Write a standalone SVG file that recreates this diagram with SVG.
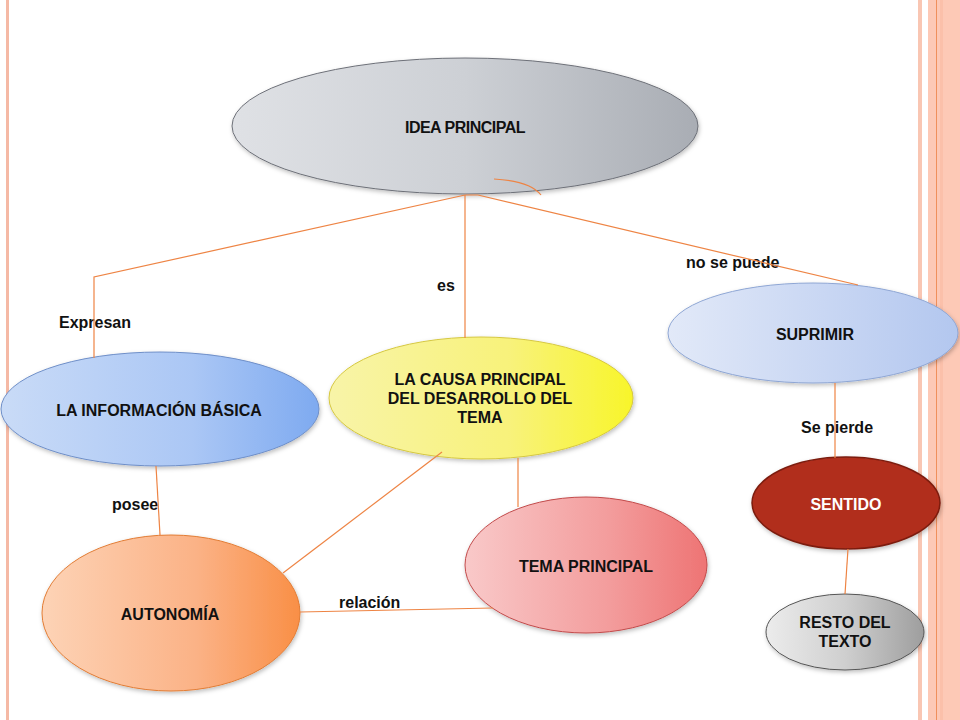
<svg xmlns="http://www.w3.org/2000/svg" width="960" height="720" viewBox="0 0 960 720">
<defs>
<linearGradient id="gGrey" x1="0" y1="0" x2="1" y2="0"><stop offset="0" stop-color="#dfe1e5"/><stop offset="0.5" stop-color="#cdd0d5"/><stop offset="1" stop-color="#a9adb4"/></linearGradient>
<linearGradient id="gBlue" x1="0" y1="0" x2="1" y2="0"><stop offset="0" stop-color="#c9dbf7"/><stop offset="0.6" stop-color="#abc7f5"/><stop offset="1" stop-color="#7eaaf0"/></linearGradient>
<linearGradient id="gYellow" x1="0" y1="0" x2="1" y2="0"><stop offset="0" stop-color="#f8f4a8"/><stop offset="0.6" stop-color="#f8f27a"/><stop offset="1" stop-color="#f8f52a"/></linearGradient>
<linearGradient id="gLBlue" x1="0" y1="0" x2="1" y2="0"><stop offset="0" stop-color="#e2e9f8"/><stop offset="1" stop-color="#b3c7ef"/></linearGradient>
<linearGradient id="gOrange" x1="0" y1="0" x2="1" y2="0"><stop offset="0" stop-color="#fdd3b6"/><stop offset="0.6" stop-color="#fbb286"/><stop offset="1" stop-color="#f98f46"/></linearGradient>
<linearGradient id="gPink" x1="0" y1="0" x2="1" y2="0"><stop offset="0" stop-color="#f9c9c9"/><stop offset="0.6" stop-color="#f39c9c"/><stop offset="1" stop-color="#ee7474"/></linearGradient>
<linearGradient id="gSilver" x1="0" y1="0" x2="1" y2="0"><stop offset="0" stop-color="#ececec"/><stop offset="0.5" stop-color="#cfcfcf"/><stop offset="1" stop-color="#9e9e9e"/></linearGradient>
<filter id="sh" x="-10%" y="-10%" width="120%" height="130%"><feDropShadow dx="1" dy="2" stdDeviation="2" flood-color="#000" flood-opacity="0.25"/></filter>
</defs>
<style>
.t{font-family:"Liberation Sans",Arial,sans-serif;font-weight:bold;font-size:16px;fill:#111;text-anchor:middle}
.l{font-family:"Liberation Sans",Arial,sans-serif;font-weight:bold;font-size:16px;fill:#111}
.c{fill:none;stroke:#ee8444;stroke-width:1.2}
</style>
<rect width="960" height="720" fill="#fff"/>
<g id="border">
<rect x="6" y="0" width="3" height="720" fill="#f5b9a5"/>
<rect x="918" y="0" width="4" height="720" fill="#f9c6b3"/>
<rect x="928" y="0" width="32" height="720" fill="#fdc9b6"/>
<rect x="936" y="0" width="1" height="720" fill="#f0905c"/>
<rect x="940" y="0" width="3" height="720" fill="#fbc0aa"/>
</g>
<g id="labels">
<text class="l" x="59" y="328">Expresan</text>
<text class="l" x="437" y="291">es</text>
<text class="l" x="686" y="268">no se puede</text>
<text class="l" x="801" y="433">Se pierde</text>
<text class="l" x="112" y="510">posee</text>
<text class="l" x="339" y="608">relación</text>
</g>
<g id="idea">
<ellipse cx="465" cy="126" rx="233" ry="68" fill="url(#gGrey)" stroke="#6d7078" stroke-width="1" filter="url(#sh)"/>
<text class="t" x="465" y="133" style="letter-spacing:-0.5px">IDEA PRINCIPAL</text>
</g>
<g id="info">
<ellipse cx="160" cy="409" rx="159" ry="57" fill="url(#gBlue)" stroke="#6f8fc8" stroke-width="1" filter="url(#sh)"/>
<text class="t" x="159" y="416">LA INFORMACIÓN BÁSICA</text>
</g>
<g id="causa">
<ellipse cx="481" cy="398" rx="152" ry="61" fill="url(#gYellow)" stroke="#d6c840" stroke-width="1" filter="url(#sh)"/>
<text class="t" x="480" y="385">LA CAUSA PRINCIPAL</text>
<text class="t" x="480" y="404">DEL DESARROLLO DEL</text>
<text class="t" x="480" y="423">TEMA</text>
</g>
<g id="suprimir">
<ellipse cx="813" cy="333" rx="145" ry="50" fill="url(#gLBlue)" stroke="#8ea6d4" stroke-width="1" filter="url(#sh)"/>
<text class="t" x="815" y="340">SUPRIMIR</text>
</g>
<g id="sentido">
<ellipse cx="846" cy="503" rx="94" ry="46" fill="#b12e1c" stroke="#7c1c10" stroke-width="1.5" filter="url(#sh)"/>
<text class="t" x="846" y="510" style="fill:#fff">SENTIDO</text>
</g>
<g id="resto">
<ellipse cx="845" cy="632" rx="79" ry="38" fill="url(#gSilver)" stroke="#555" stroke-width="1" filter="url(#sh)"/>
<text class="t" x="845" y="628">RESTO DEL</text>
<text class="t" x="845" y="647">TEXTO</text>
</g>
<g id="autonomia">
<ellipse cx="171" cy="613" rx="129" ry="78" fill="url(#gOrange)" stroke="#e27c34" stroke-width="1" filter="url(#sh)"/>
<text class="t" x="170" y="620">AUTONOMÍA</text>
</g>
<g id="tema">
<ellipse cx="586" cy="565" rx="121" ry="68" fill="url(#gPink)" stroke="#c24a4a" stroke-width="1" filter="url(#sh)"/>
<text class="t" x="586" y="572">TEMA PRINCIPAL</text>
</g>
<g id="connectors">
<path class="c" d="M465,195 L94,277 L94,358"/>
<path class="c" d="M465,195 L465,338"/>
<path class="c" d="M465,195 L478,195 L858,285"/>
<path class="c" d="M494,179 Q530,181 541,195"/>
<path class="c" d="M156,466 L160,535"/>
<path class="c" d="M442,452 L283,573"/>
<path class="c" d="M518,458 L518,507"/>
<path class="c" d="M300,612 L493,608"/>
<path class="c" d="M835,383 L835,458"/>
<path class="c" d="M848,549 L845,594"/>
</g>
</svg>
